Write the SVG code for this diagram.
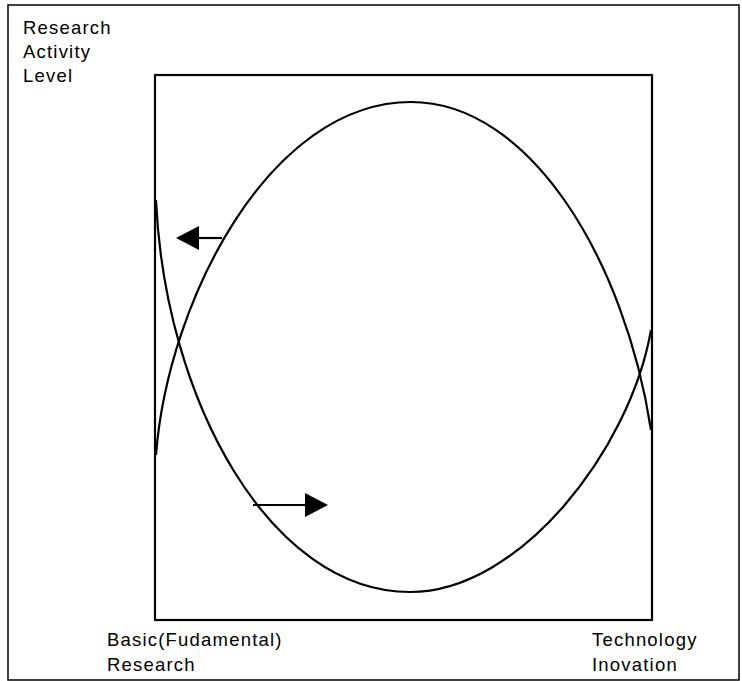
<svg xmlns="http://www.w3.org/2000/svg" width="742" height="681" viewBox="0 0 742 681">
<style>
.lbl{font-family:"Liberation Sans",Arial,sans-serif;font-size:18.5px;letter-spacing:1.2px;fill:#000}
.ln{fill:none;stroke:#000;stroke-width:2.2}
.head{fill:#000;stroke:none}
</style>
<rect width="742" height="681" fill="#fff"/>
<g id="frame">
<rect x="8" y="5" width="731" height="675" fill="none" stroke="#000" stroke-width="1.5"/>
</g>
<g id="axis-label">
<text class="lbl" x="23" y="34">Research</text>
<text class="lbl" x="23" y="58">Activity</text>
<text class="lbl" x="23" y="82">Level</text>
</g>
<g id="plot-box">
<rect x="155" y="75" width="497" height="545" fill="none" stroke="#000" stroke-width="2.2"/>
</g>
<g id="basic-research-curve">
<path class="ln" d="M156,200 C165,400 270,592 410,592 C520,592 630,450 651,330"/>
</g>
<g id="technology-curve">
<path class="ln" d="M156,455 C168,300 270,102 411,102 C530,102 625,260 651,430"/>
</g>
<g id="connectors">
<line class="ln" x1="222" y1="238" x2="195" y2="238"/>
<polygon class="head" points="176,238 199,226 199,250"/>
<line class="ln" x1="253" y1="505" x2="310" y2="505"/>
<polygon class="head" points="328,505 305,493 305,517"/>
</g>
<g id="x-labels">
<text class="lbl" x="107" y="646">Basic(Fudamental)</text>
<text class="lbl" x="107" y="671">Research</text>
<text class="lbl" x="592" y="646">Technology</text>
<text class="lbl" x="592" y="671">Inovation</text>
</g>
</svg>
